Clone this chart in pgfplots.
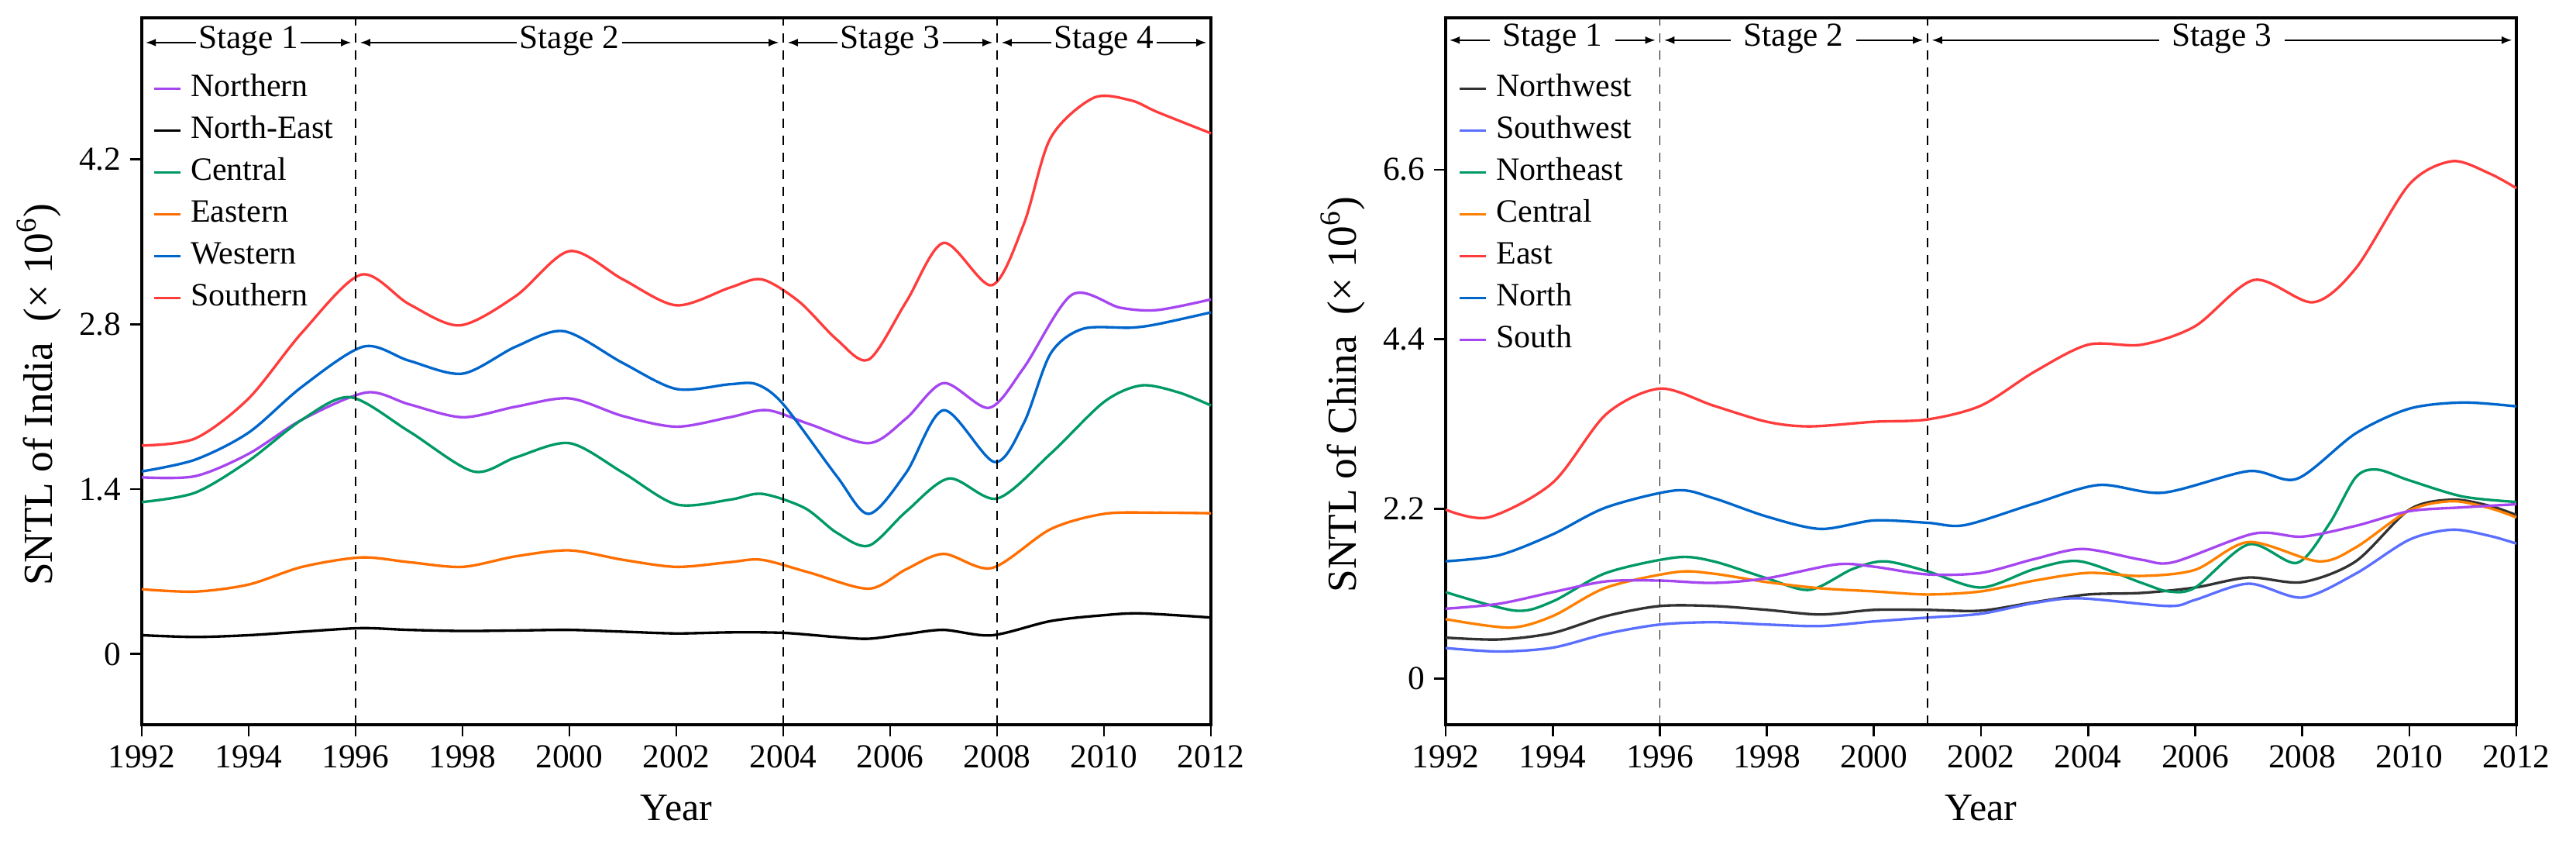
\documentclass[border=0pt]{standalone}
\usepackage{pgfplots}
\pgfplotsset{compat=1.18}
\usepackage{fontspec}
\setmainfont{Liberation Serif}
\usetikzlibrary{arrows.meta}

\definecolor{cpurple}{RGB}{165,70,240}
\definecolor{cblue}{RGB}{0,102,204}
\definecolor{cgreen}{RGB}{0,153,102}
\definecolor{corange}{RGB}{255,110,0}
\definecolor{corange2}{RGB}{255,128,0}
\definecolor{cred}{RGB}{255,60,60}
\definecolor{cperi}{RGB}{90,110,255}
\definecolor{cgray}{RGB}{50,50,50}

\newcommand{\ticksize}{\fontsize{13}{13}\selectfont}

\tikzset{
  stagearrow/.style={{Latex[length=4pt,width=3pt]}-{Latex[length=4pt,width=3pt]}, line width=0.6pt},
  stagelabel/.style={midway, fill=white, anchor=mid, font=\ticksize},
  stagedash/.style={dash pattern=on 3.6pt off 3pt, line width=0.55pt},
}

\pgfplotsset{
  panel/.style={
    scale only axis,
    width=414pt, height=273.6pt,
    xmin=1992, xmax=2012,
    xtick={1992,1994,...,2012},
    axis line style={line width=1pt},
    tick style={black, line width=0.8pt},
    tick align=outside,
    major tick length=4.5pt,
    tick pos=left,
    tick label style={font=\ticksize},
    /pgf/number format/.cd, 1000 sep={}, assume math mode=true, /pgfplots/.cd,
    xlabel={Year},
    xlabel style={font=\fontsize{15}{15}\selectfont, yshift=-3.5pt},
    ylabel style={font=\fontsize{16}{16}\selectfont, at={(ticklabel cs:0.467)}},
    clip=false,
    every axis plot/.append style={line width=1pt, smooth, no markers},
    legend cell align=left,
    legend image code/.code={\draw[##1, line width=1pt] (0pt,0pt) -- (10pt,0pt);},
    legend style={draw=none, fill=none, inner sep=0pt,
      font=\fontsize{12.6}{12.6}\selectfont,
      row sep=4.2pt,
      nodes={inner sep=0pt, text height=9pt, text depth=3pt},
      /tikz/every odd column/.append style={column sep=3.6pt}},
  },
}

\begin{document}
\begin{tikzpicture}
\path[use as bounding box] (0,0) rectangle (997.5pt,325.2pt);

% India
\begin{axis}[panel,
  at={(54.9pt,44.7pt)}, anchor=south west,
  ymin=-0.6, ymax=5.4,
  ytick={0,1.4,2.8,4.2},
  ylabel={SNTL of India\ \ (× 10\textsuperscript{6})},
  legend style={at={(rel axis cs:0.0101,0.922)}, anchor=north west},
]
\addplot[cpurple] coordinates {(1992,1.50)(1993,1.51)(1994,1.70)(1995,1.99)(1996.2,2.22)(1997,2.12)(1998,2.01)(1999,2.10)(2000,2.17)(2001,2.02)(2002,1.93)(2003,2.01)(2003.7,2.07)(2004.5,1.95)(2005.6,1.79)(2006.3,2.0)(2007,2.30)(2007.85,2.09)(2008.5,2.43)(2009.4,3.05)(2010.3,2.94)(2011,2.92)(2012,3.01)};
\addlegendentry{Northern}
\addplot[black] coordinates {(1992,0.16)(1993,0.145)(1994,0.16)(1995,0.19)(1996.1,0.22)(1997,0.205)(1998,0.196)(1999,0.20)(2000,0.205)(2001,0.19)(2002,0.175)(2003,0.184)(2004,0.18)(2005,0.144)(2005.6,0.13)(2006.3,0.17)(2007,0.205)(2007.9,0.159)(2009,0.28)(2010,0.33)(2010.7,0.345)(2012,0.31)};
\addlegendentry{North-East}
\addplot[cgreen] coordinates {(1992,1.29)(1993,1.37)(1994,1.64)(1995,1.99)(1995.9,2.18)(1997,1.89)(1998.2,1.55)(1999,1.67)(2000,1.79)(2001,1.54)(2002,1.27)(2003,1.31)(2003.6,1.36)(2004.4,1.24)(2005,1.03)(2005.6,0.92)(2006.3,1.21)(2007.1,1.49)(2008,1.32)(2009,1.70)(2010,2.14)(2010.7,2.28)(2011.4,2.22)(2012,2.11)};
\addlegendentry{Central}
\addplot[corange] coordinates {(1992,0.55)(1993,0.53)(1994,0.59)(1995,0.74)(1996.1,0.82)(1997,0.78)(1998,0.74)(1999,0.83)(2000,0.88)(2001,0.80)(2002,0.74)(2003,0.78)(2003.6,0.80)(2004.5,0.69)(2005.6,0.555)(2006.3,0.72)(2007,0.85)(2007.9,0.73)(2009,1.06)(2010,1.19)(2011,1.20)(2012,1.195)};
\addlegendentry{Eastern}
\addplot[cblue] coordinates {(1992,1.55)(1993,1.65)(1994,1.88)(1995,2.27)(1996.15,2.61)(1997,2.49)(1998,2.38)(1999,2.61)(1999.9,2.74)(2001,2.47)(2002,2.25)(2003,2.29)(2003.5,2.29)(2004,2.12)(2005,1.51)(2005.6,1.19)(2006.3,1.54)(2007,2.07)(2007.95,1.63)(2008.5,1.96)(2009,2.55)(2009.6,2.76)(2010.5,2.77)(2011,2.80)(2012,2.90)};
\addlegendentry{Western}
\addplot[cred] coordinates {(1992,1.77)(1993,1.83)(1994,2.17)(1995,2.73)(1996.1,3.22)(1997,2.97)(1997.95,2.79)(1999,3.04)(2000,3.42)(2001,3.18)(2002,2.96)(2003,3.11)(2003.6,3.18)(2004.3,2.99)(2005,2.67)(2005.6,2.50)(2006.3,2.99)(2007,3.49)(2007.9,3.13)(2008.5,3.65)(2009,4.38)(2009.8,4.72)(2010.5,4.70)(2011,4.60)(2012,4.42)};
\addlegendentry{Southern}

\draw[stagedash] (axis cs:1996,-0.6) -- (axis cs:1996,5.4);
\draw[stagedash] (axis cs:2004,-0.6) -- (axis cs:2004,5.4);
\draw[stagedash] (axis cs:2008,-0.6) -- (axis cs:2008,5.4);
\draw[stagearrow] (axis cs:1992.07,5.19) -- (axis cs:1995.92,5.19) node[stagelabel, inner sep=1pt] {Stage 1};
\draw[stagearrow] (axis cs:1996.08,5.19) -- (axis cs:2003.92,5.19) node[stagelabel, inner sep=1pt] {Stage 2};
\draw[stagearrow] (axis cs:2004.08,5.19) -- (axis cs:2007.92,5.19) node[stagelabel, inner sep=1pt] {Stage 3};
\draw[stagearrow] (axis cs:2008.08,5.19) -- (axis cs:2011.92,5.19) node[stagelabel, inner sep=1pt] {Stage 4};
\end{axis}

% China
\begin{axis}[panel,
  at={(559.8pt,44.7pt)}, anchor=south west,
  width=414.6pt,
  ymin=-0.6, ymax=8.57,
  ytick={0,2.2,4.4,6.6},
  ylabel={SNTL of China\ \ (× 10\textsuperscript{6})},
  legend style={at={(rel axis cs:0.0116,0.922)}, anchor=north west},
]
\addplot[cgray] coordinates {(1992,0.53)(1993,0.506)(1994,0.59)(1995,0.81)(1996,0.94)(1997,0.94)(1998,0.89)(1999,0.83)(2000,0.89)(2001,0.89)(2002,0.88)(2003,0.99)(2004,1.09)(2005,1.11)(2006,1.18)(2007,1.31)(2008,1.25)(2009,1.52)(2010,2.19)(2010.8,2.32)(2011.5,2.24)(2012,2.12)};
\addlegendentry{Northwest}
\addplot[cperi] coordinates {(1992,0.395)(1993,0.35)(1994,0.40)(1995,0.58)(1996,0.70)(1997,0.73)(1998,0.70)(1999,0.68)(2000,0.74)(2001,0.79)(2002,0.84)(2003,0.98)(2003.85,1.04)(2005.5,0.94)(2006,1.02)(2007,1.23)(2008,1.05)(2009,1.36)(2010,1.80)(2010.8,1.93)(2011.5,1.85)(2012,1.75)};
\addlegendentry{Southwest}
\addplot[cgreen] coordinates {(1992,1.12)(1993.3,0.88)(1994,1.00)(1995,1.37)(1996.3,1.57)(1997,1.52)(1998,1.30)(1998.8,1.15)(1999.6,1.42)(2000.2,1.52)(2001,1.39)(2002,1.18)(2003,1.42)(2003.85,1.52)(2005,1.24)(2005.5,1.13)(2006,1.18)(2007,1.74)(2007.9,1.50)(2008.5,2.00)(2009,2.61)(2009.4,2.71)(2010,2.57)(2011,2.36)(2012,2.29)};
\addlegendentry{Northeast}
\addplot[corange2] coordinates {(1992,0.77)(1993.2,0.66)(1994,0.81)(1995,1.18)(1996.3,1.38)(1997,1.36)(1998,1.25)(1999,1.17)(2000,1.13)(2001,1.09)(2002,1.13)(2003,1.27)(2004,1.37)(2005,1.33)(2006,1.41)(2007,1.77)(2008.3,1.52)(2009,1.70)(2010,2.18)(2010.8,2.30)(2011.5,2.21)(2012,2.09)};
\addlegendentry{Central}
\addplot[cred] coordinates {(1992,2.19)(1992.8,2.09)(1994,2.54)(1995,3.43)(1996,3.76)(1997,3.54)(1998,3.33)(1998.8,3.27)(2000,3.33)(2001,3.36)(2002,3.54)(2003,3.98)(2004,4.33)(2005,4.33)(2006,4.57)(2007.1,5.17)(2008.2,4.88)(2009,5.32)(2010,6.41)(2010.8,6.71)(2011.5,6.55)(2012,6.36)};
\addlegendentry{East}
\addplot[cblue] coordinates {(1992,1.52)(1993,1.60)(1994,1.87)(1995,2.22)(1996.3,2.44)(1997,2.34)(1998,2.10)(1999,1.94)(2000,2.05)(2001,2.02)(2001.7,1.99)(2003,2.27)(2004.2,2.51)(2005.4,2.41)(2007,2.69)(2007.9,2.59)(2009,3.18)(2010,3.50)(2011,3.58)(2012,3.53)};
\addlegendentry{North}
\addplot[cpurple] coordinates {(1992,0.905)(1993,0.97)(1994,1.12)(1995,1.26)(1996,1.27)(1997,1.24)(1998,1.30)(1999.3,1.48)(2000,1.45)(2001,1.35)(2002,1.37)(2003,1.55)(2003.9,1.68)(2005,1.54)(2005.6,1.51)(2007.1,1.88)(2008,1.84)(2009,1.98)(2010,2.17)(2011,2.22)(2012,2.26)};
\addlegendentry{South}

\draw[stagedash] (axis cs:1996,-0.6) -- (axis cs:1996,8.57);
\draw[stagedash] (axis cs:2001,-0.6) -- (axis cs:2001,8.57);
\draw[stagearrow] (axis cs:1992.07,8.28) -- (axis cs:1995.92,8.28) node[stagelabel, inner xsep=5pt, inner ysep=1pt] {Stage 1};
\draw[stagearrow] (axis cs:1996.08,8.28) -- (axis cs:2000.92,8.28) node[stagelabel, inner xsep=5pt, inner ysep=1pt] {Stage 2};
\draw[stagearrow] (axis cs:2001.08,8.28) -- (axis cs:2011.92,8.28) node[stagelabel, inner xsep=5pt, inner ysep=1pt] {Stage 3};
\end{axis}
\end{tikzpicture}
\end{document}
